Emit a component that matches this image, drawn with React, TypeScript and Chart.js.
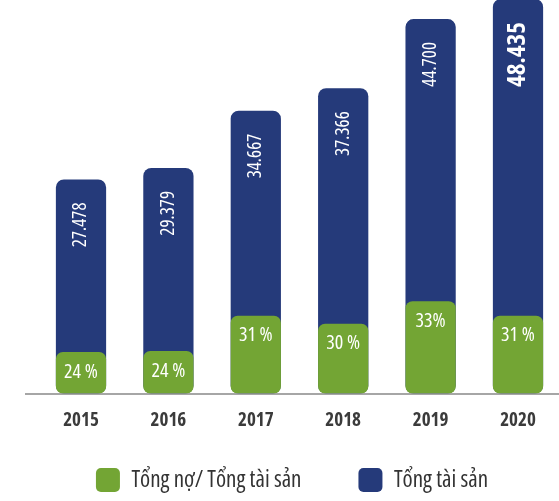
import React, { useEffect, useRef } from 'react';
import { Chart, registerables } from 'chart.js';

Chart.register(...registerables);

const years = ['2015', '2016', '2017', '2018', '2019', '2020'];
// bar heights (same units as the asset labels)
const totalAssets = [26.24, 27.65, 34.68, 37.43, 45.92, 48.38];
const debtRatioBars = [5.09, 5.21, 9.54, 8.56, 11.31, 9.54];
const totalAssetLabels = ['27.478', '29.379', '34.667', '37.366', '44.700', '48.435'];
const debtRatioLabels = ['24 %', '24 %', '31 %', '30 %', '33%', '31 %'];
const seriesNames = ['Tổng nợ/ Tổng tài sản', 'Tổng tài sản'];

const GREEN = '#73a534';
const NAVY = '#253a7a';
const FONT = "'Open Sans', 'Liberation Sans', sans-serif";

const labelPlugin = {
  id: 'barLabels',
  beforeDatasetsDraw(chart: any) {
    const ctx = chart.ctx;
    ctx.save();
    ctx.strokeStyle = '#a6a6a6';
    ctx.lineWidth = 2;
    const y = chart.chartArea.bottom + 0.5;
    ctx.beginPath();
    ctx.moveTo(25, y);
    ctx.lineTo(chart.width, y);
    ctx.stroke();
    ctx.restore();
  },
  afterDatasetsDraw(chart: any) {
    const ctx = chart.ctx;
    const navy = chart.getDatasetMeta(1);
    navy.data.forEach((el: any, i: number) => {
      const last = i === years.length - 1;
      ctx.save();
      ctx.translate(el.x, el.y + 23);
      ctx.rotate(-Math.PI / 2);
      ctx.font = `${last ? 'bold ' : ''}condensed ${last ? 25 : 19}px ${FONT}`;
      try { (ctx as any).fontStretch = 'condensed'; } catch (e) {}
      ctx.fillStyle = '#ffffff';
      ctx.textAlign = 'right';
      ctx.textBaseline = 'middle';
      ctx.fillText(totalAssetLabels[i], 0, 0);
      ctx.restore();
    });
    const green = chart.getDatasetMeta(0);
    green.data.forEach((el: any, i: number) => {
      ctx.save();
      ctx.font = `condensed 20px ${FONT}`;
      try { (ctx as any).fontStretch = 'condensed'; } catch (e) {}
      ctx.fillStyle = '#ffffff';
      ctx.textAlign = 'center';
      ctx.textBaseline = 'middle';
      ctx.fillText(debtRatioLabels[i], el.x, el.y + 20);
      ctx.restore();
    });
  },
};

export default function App() {
  const ref = useRef<HTMLCanvasElement>(null);

  useEffect(() => {
    if (!ref.current) return;
    const chart = new Chart(ref.current, {
      type: 'bar',
      data: {
        labels: years,
        datasets: [
          {
            label: seriesNames[0],
            data: debtRatioBars,
            backgroundColor: GREEN,
            borderWidth: 0,
            borderRadius: 7,
            borderSkipped: false,
            grouped: false,
            categoryPercentage: 1,
            barPercentage: 0.575,
          },
          {
            label: seriesNames[1],
            data: totalAssets,
            backgroundColor: NAVY,
            borderWidth: 0,
            borderRadius: 8,
            borderSkipped: false,
            grouped: false,
            categoryPercentage: 1,
            barPercentage: 0.575,
          },
        ],
      } as any,
      options: {
        responsive: false,
        animation: false,
        layout: { padding: 0 },
        scales: {
          x: {
            grid: { display: false, drawTicks: false },
            border: { display: false },
            ticks: {
              mirror: true,
              padding: -38.6,
              autoSkip: false,
              maxRotation: 0,
              color: '#3b3b3b',
              font: { family: FONT, size: 19, weight: 'bold condensed' },
            },
            afterFit: (s: any) => {
              s.height = 17.5;
            },
          },
          y: {
            min: 0,
            max: 48.5,
            position: 'left',
            grid: { display: false, drawTicks: false },
            border: { display: false },
            ticks: { display: false },
            afterFit: (s: any) => {
              s.width = 37.3;
            },
          },
          y2: {
            min: 0,
            max: 1,
            position: 'right',
            grid: { display: false, drawTicks: false },
            border: { display: false },
            ticks: { display: false },
            afterFit: (s: any) => {
              s.width = 22.3;
            },
          },
        },
        plugins: {
          title: { display: false },
          tooltip: { enabled: false },
          legend: {
            position: 'bottom',
            labels: {
              boxWidth: 24,
              boxHeight: 24,
              useBorderRadius: true,
              borderRadius: 5,
              padding: 57,
              color: '#333333',
              font: { family: FONT, size: 23, weight: 'condensed' },
            },
          },
        },
      } as any,
      plugins: [labelPlugin],
    });
    return () => chart.destroy();
  }, []);

  return (
    <div
      style={{
        position: 'fixed',
        left: 0,
        top: 0,
        width: 559,
        height: 501,
        overflow: 'hidden',
        background: '#ffffff',
      }}
    >
      <canvas
        ref={ref}
        width={584}
        height={504}
        style={{ position: 'absolute', left: 0, top: -2, width: 584, height: 504, display: 'block' }}
      />
    </div>
  );
}
